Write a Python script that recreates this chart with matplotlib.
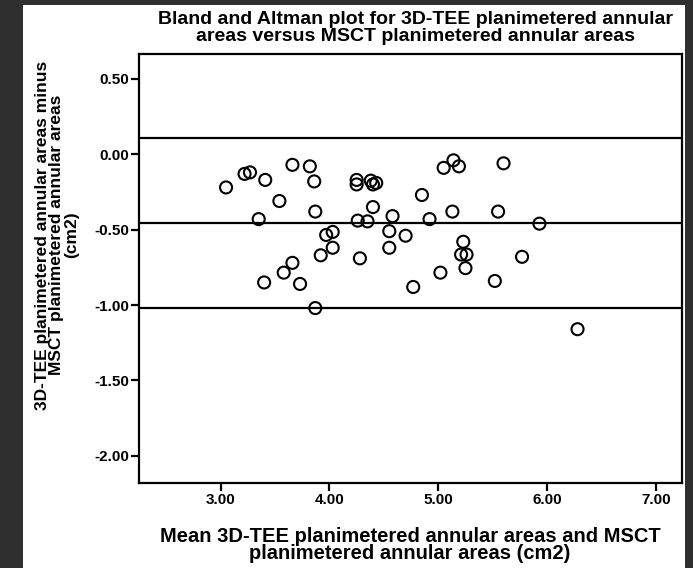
import numpy as np
import matplotlib
matplotlib.use("Agg")
import matplotlib.pyplot as plt
from matplotlib.patches import Rectangle

# mean of the two methods (cm2)
mean_area = [3.05, 3.22, 3.27, 3.41, 3.54, 3.35, 3.66, 3.82, 3.86, 3.87,
             3.97, 4.03, 4.03, 3.92, 3.66, 3.58, 3.40, 3.73, 3.87, 4.25,
             4.25, 4.38, 4.43, 4.40, 4.40, 4.26, 4.35, 4.58, 4.55, 4.55,
             4.28, 4.70, 4.77, 4.85, 4.92, 5.02, 5.05, 5.14, 5.19, 5.13,
             5.23, 5.21, 5.26, 5.25, 5.52, 5.55, 5.60, 5.77, 5.93, 6.28]
# 3D-TEE minus MSCT (cm2)
diff_area = [-0.22, -0.13, -0.12, -0.17, -0.31, -0.43, -0.07, -0.08, -0.18, -0.38,
             -0.535, -0.515, -0.62, -0.67, -0.72, -0.785, -0.85, -0.86, -1.02, -0.17,
             -0.20, -0.175, -0.19, -0.20, -0.35, -0.44, -0.445, -0.41, -0.51, -0.62,
             -0.69, -0.54, -0.88, -0.27, -0.43, -0.785, -0.09, -0.04, -0.08, -0.38,
             -0.58, -0.665, -0.665, -0.755, -0.84, -0.38, -0.06, -0.68, -0.46, -1.16]

# mean difference and limits of agreement
ref_lines = [0.11, -0.455, -1.02]

x_ticks = [3.0, 4.0, 5.0, 6.0, 7.0]
y_ticks = [0.5, 0.0, -0.5, -1.0, -1.5, -2.0]

plt.rcParams['font.family'] = ['Liberation Sans', 'DejaVu Sans']
plt.rcParams['font.weight'] = 'bold'

fig = plt.figure(figsize=(6.93, 5.68), dpi=100)
fig.patch.set_facecolor('#2f2f2f')
# white panel behind the chart
fig.patches.append(Rectangle((23 / 693, 0), (685 - 23) / 693, (568 - 5) / 568,
                             transform=fig.transFigure, facecolor='white',
                             edgecolor='none', zorder=-5))

ax = fig.add_axes([139 / 693, 1 - 483 / 568, (682 - 139) / 693, (483 - 54) / 568])
ax.set_facecolor('white')
ax.set_zorder(2)

for v in ref_lines:
    ax.axhline(v, color='black', lw=1.6, zorder=1)

ax.scatter(mean_area, diff_area, s=75, facecolors='none', edgecolors='black',
           linewidths=1.5, zorder=2)

ax.set_xlim(2.25, 7.24)
ax.set_ylim(-2.18, 0.665)
ax.set_xticks(x_ticks)
ax.set_yticks(y_ticks)
ax.set_xticklabels(['%.2f' % v for v in x_ticks], fontsize=11)
ax.set_yticklabels(['%.2f' % v for v in y_ticks], fontsize=11)
ax.tick_params(direction='out', length=6, width=1.6, pad=1)
for s in ax.spines.values():
    s.set_linewidth(1.6)

fig.text(416 / 693, 1 - 28 / 568,
         'Bland and Altman plot for 3D-TEE planimetered annular\n'
         'areas versus MSCT planimetered annular areas',
         ha='center', va='center', fontsize=14, fontweight='bold', linespacing=1.0)

fig.text(410 / 693, 1 - 545 / 568,
         'Mean 3D-TEE planimetered annular areas and MSCT\n'
         'planimetered annular areas (cm2)',
         ha='center', va='center', fontsize=14.5, fontweight='bold', linespacing=0.9)

fig.text(57 / 693, 1 - 235 / 568,
         '3D-TEE planimetered annular areas minus\n'
         'MSCT planimetered annular areas\n(cm2)',
         ha='center', va='center', rotation=90, fontsize=12.5, fontweight='bold',
         linespacing=0.95)

fig.savefig('out.png', dpi=100, facecolor=fig.get_facecolor())
